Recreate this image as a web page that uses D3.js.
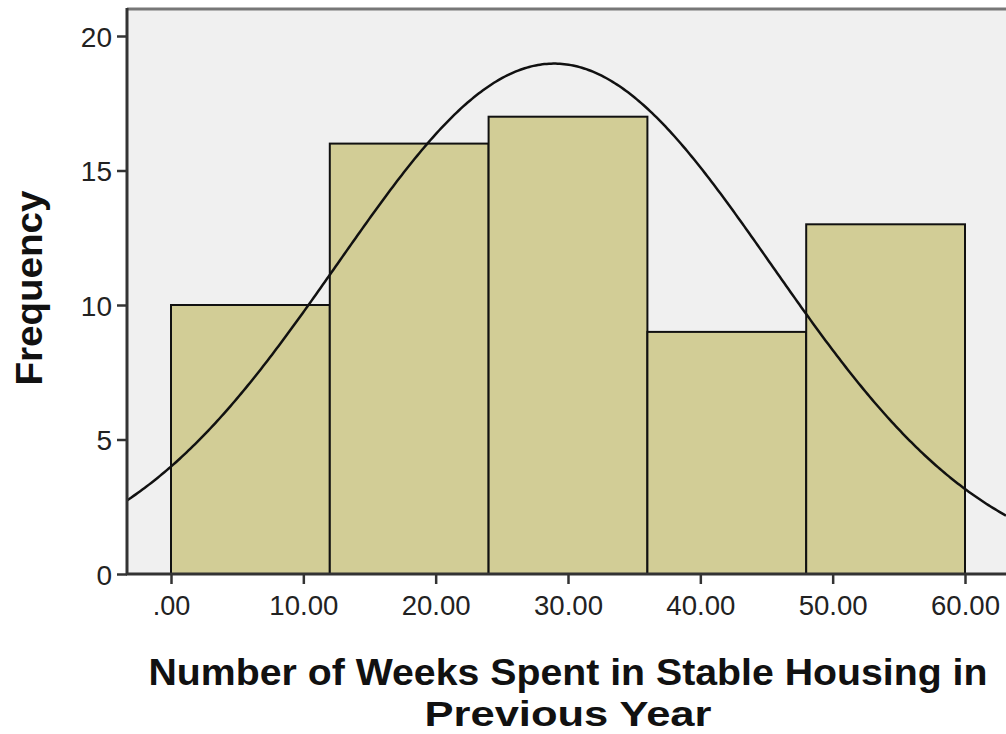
<!DOCTYPE html>
<html><head><meta charset="utf-8">
<script src="https://cdn.jsdelivr.net/npm/d3@7"></script>
<style>html,body{margin:0;padding:0;background:#fff;}svg{display:block;}</style>
</head><body>
<script>
// Data
const binEdges = [0, 12, 24, 36, 48, 60];
const frequencies = [10, 16, 17, 9, 13];
const xTicks = [0, 10, 20, 30, 40, 50, 60];
const xTickLabels = [".00", "10.00", "20.00", "30.00", "40.00", "50.00", "60.00"];
const yTicks = [0, 5, 10, 15, 20];
const fitMean = 28.95;
const fitSD = 16.4;
const fitN = 65;
const binWidth = 12;

const W = 1006, H = 734;
const plot = {left: 127, right: 1006, top: 9, bottom: 574};

const svg = d3.select("body").append("svg").attr("width", W).attr("height", H);

const x = d3.scaleLinear().domain([0, 60]).range([171, 965]);
const y = d3.scaleLinear().domain([0, 20]).range([574, 36]);

// background
svg.append("rect").attr("x", plot.left).attr("y", plot.top)
  .attr("width", plot.right - plot.left).attr("height", plot.bottom - plot.top)
  .attr("fill", "#f0f0f0");
// top border
svg.append("line").attr("x1", plot.left).attr("x2", plot.right)
  .attr("y1", plot.top).attr("y2", plot.top)
  .attr("stroke", "#777").attr("stroke-width", 3);

// bars
const bins = frequencies.map((f, i) => ({x0: binEdges[i], x1: binEdges[i + 1], f}));
svg.append("g").selectAll("rect").data(bins).join("rect")
  .attr("x", d => x(d.x0)).attr("y", d => y(d.f))
  .attr("width", d => x(d.x1) - x(d.x0)).attr("height", d => y(0) - y(d.f))
  .attr("fill", "#d2cd96").attr("stroke", "#111").attr("stroke-width", 2);

// normal curve
const xMin = x.invert(plot.left), xMax = x.invert(plot.right);
const pts = d3.range(0, 401).map(i => {
  const v = xMin + (xMax - xMin) * i / 400;
  const dens = fitN * binWidth / (fitSD * Math.sqrt(2 * Math.PI)) * Math.exp(-((v - fitMean) ** 2) / (2 * fitSD * fitSD));
  return [v, dens];
});
svg.append("path").datum(pts)
  .attr("d", d3.line().x(d => x(d[0])).y(d => y(d[1])))
  .attr("fill", "none").attr("stroke", "#111").attr("stroke-width", 2.5);

const tf = "'Liberation Sans', Arial, sans-serif";

// axes
const yAxis = d3.axisLeft(y).tickValues(yTicks).tickSize(10).tickPadding(5);
const gy = svg.append("g").attr("transform", `translate(${plot.left},0)`).call(yAxis);
gy.select(".domain").remove();
svg.append("line").attr("x1", plot.left).attr("x2", plot.left).attr("y1", plot.top - 1).attr("y2", plot.bottom + 1)
  .attr("stroke", "#333").attr("stroke-width", 3);
gy.selectAll(".tick line").attr("stroke", "#333").attr("stroke-width", 2.5);
gy.selectAll(".tick text").attr("font-family", tf)
  .attr("font-size", 28).attr("fill", "#222").attr("dy", "0.36em");

const xAxis = d3.axisBottom(x).tickValues(xTicks).tickFormat((d, i) => xTickLabels[i]).tickSize(10).tickPadding(12);
const gx = svg.append("g").attr("transform", `translate(0,${plot.bottom})`).call(xAxis);
gx.select(".domain").remove();
svg.append("line").attr("x1", plot.left - 1).attr("x2", plot.right).attr("y1", plot.bottom).attr("y2", plot.bottom)
  .attr("stroke", "#333").attr("stroke-width", 3);
gx.selectAll(".tick line").attr("stroke", "#333").attr("stroke-width", 2.5);
gx.selectAll(".tick text").attr("font-family", tf)
  .attr("font-size", 27).attr("fill", "#222").attr("textLength", (d, i) => i === 0 ? null : 69)
  .attr("lengthAdjust", "spacingAndGlyphs");

// titles
svg.append("text").attr("x", 568).attr("y", 685).attr("text-anchor", "middle")
  .attr("font-family", tf).attr("font-weight", "bold").attr("font-size", 37).attr("fill", "#111")
  .attr("textLength", 839).attr("lengthAdjust", "spacingAndGlyphs")
  .text("Number of Weeks Spent in Stable Housing in");
svg.append("text").attr("x", 568).attr("y", 726).attr("text-anchor", "middle")
  .attr("font-family", tf).attr("font-weight", "bold").attr("font-size", 35).attr("fill", "#111")
  .attr("textLength", 287).attr("lengthAdjust", "spacingAndGlyphs")
  .text("Previous Year");
svg.append("text").attr("transform", "translate(42,288) rotate(-90)").attr("text-anchor", "middle")
  .attr("font-family", tf).attr("font-weight", "bold").attr("font-size", 36).attr("fill", "#111")
  .attr("textLength", 195).attr("lengthAdjust", "spacingAndGlyphs")
  .text("Frequency");
</script>
</body></html>
